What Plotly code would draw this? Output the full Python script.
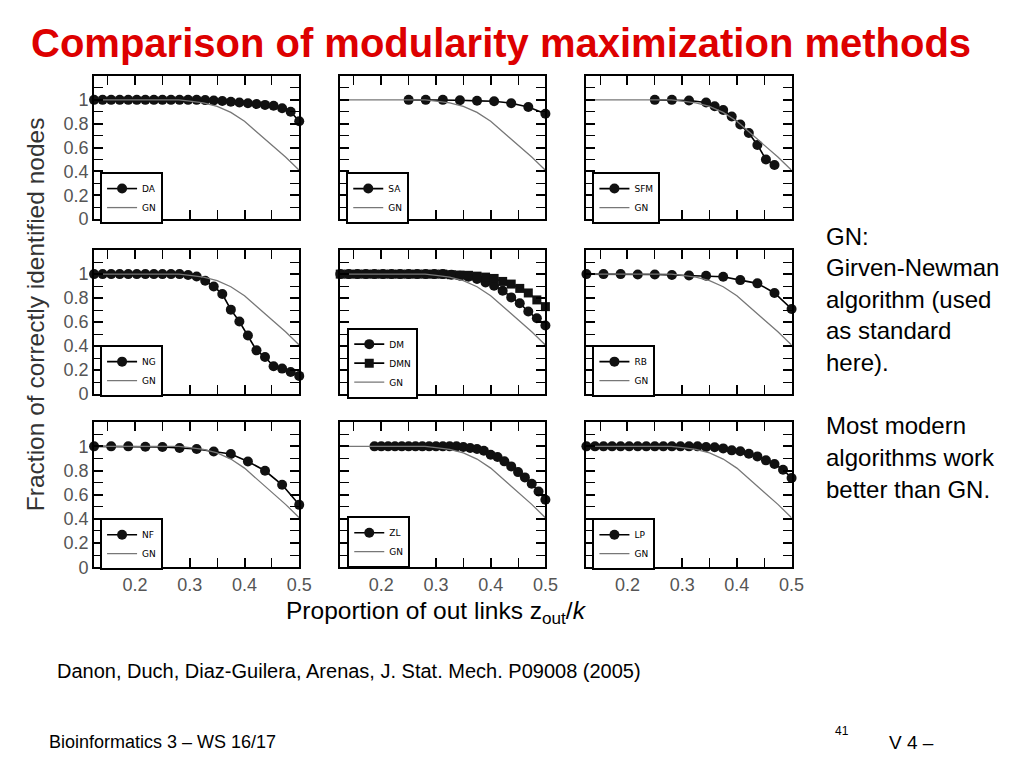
import plotly.graph_objects as go

# ---------------- data ----------------
x_grid64 = [0.125, 0.140625, 0.15625, 0.171875, 0.1875, 0.203125, 0.21875, 0.234375, 0.25,
            0.265625, 0.28125, 0.296875, 0.3125, 0.328125, 0.34375, 0.359375, 0.375,
            0.390625, 0.40625, 0.421875, 0.4375, 0.453125, 0.46875, 0.484375, 0.5]
x_grid32 = [0.125, 0.15625, 0.1875, 0.21875, 0.25, 0.28125, 0.3125, 0.34375, 0.375,
            0.40625, 0.4375, 0.46875, 0.5]
x_sa = [0.25, 0.28125, 0.3125, 0.34375, 0.375, 0.40625, 0.4375, 0.46875, 0.5]
x_sfm = [0.25, 0.28125, 0.3125, 0.34375, 0.359375, 0.375, 0.390625, 0.40625, 0.421875,
         0.4375, 0.453125, 0.46875]
x_zl = [0.1875, 0.2, 0.2125, 0.225, 0.2375, 0.25, 0.2625, 0.275, 0.2875, 0.3, 0.3125,
        0.325, 0.3375, 0.35, 0.3625, 0.375, 0.3875, 0.4, 0.4125, 0.425, 0.4375, 0.45,
        0.4625, 0.475, 0.4875, 0.5]

gn_x = [0.125, 0.28, 0.30, 0.325, 0.35, 0.375, 0.40, 0.42, 0.45, 0.475, 0.5]
gn_y = [1.0, 1.0, 0.99, 0.975, 0.945, 0.895, 0.82, 0.74, 0.62, 0.52, 0.41]

da_y = [1, 1, 1, 1, 1, 1, 1, 1, 1, 1, 1, 1, 1, 0.998, 0.995, 0.99, 0.985, 0.978, 0.972,
        0.965, 0.958, 0.95, 0.93, 0.9, 0.82]
sa_y = [1.0, 1.0, 1.0, 0.997, 0.992, 0.989, 0.972, 0.94, 0.884]
sfm_y = [1.0, 1.0, 0.995, 0.978, 0.946, 0.915, 0.861, 0.793, 0.722, 0.622, 0.5, 0.454]
ng_y = [1, 1, 1, 1, 1, 1, 1, 1, 1, 1, 1, 0.992, 0.98, 0.945, 0.897, 0.834, 0.704, 0.605,
        0.489, 0.365, 0.309, 0.232, 0.213, 0.185, 0.152]
dm_y = [1, 1, 1, 1, 1, 1, 1, 1, 1, 1, 1, 1, 1, 0.994, 0.986, 0.978, 0.959, 0.931, 0.903,
        0.862, 0.806, 0.757, 0.688, 0.632, 0.572]
dmn_y = [1, 1, 1, 1, 1, 1, 1, 1, 1, 1, 1, 1, 1, 0.995, 0.992, 0.99, 0.983, 0.975, 0.964,
         0.939, 0.917, 0.881, 0.843, 0.785, 0.729]
rb_y = [1.0, 1.0, 1.0, 0.997, 0.997, 0.992, 0.989, 0.986, 0.978, 0.95, 0.923, 0.843, 0.71]
nf_y = [1, 1, 1, 0.997, 0.994, 0.986, 0.978, 0.958, 0.936, 0.875, 0.798, 0.682, 0.516]
zl_y = [1, 1, 1, 1, 1, 1, 1, 1, 1, 1, 1, 1, 1, 0.994, 0.986, 0.978, 0.964, 0.931, 0.912,
        0.876, 0.834, 0.787, 0.743, 0.69, 0.627, 0.558]
lp_y = [1, 1, 1, 1, 1, 1, 1, 1, 1, 1, 1, 1, 1, 1, 0.994, 0.992, 0.983, 0.967, 0.959,
        0.939, 0.917, 0.884, 0.854, 0.807, 0.738]

x_tickvals = [0.2, 0.3, 0.4, 0.5]
y_tickvals = [0, 0.2, 0.4, 0.6, 0.8, 1]
y_ticktext = ["0", "0.2", "0.4", "0.6", "0.8", "1"]

panels = [
    [("DA", x_grid64, da_y, "circle")],
    [("SA", x_sa, sa_y, "circle")],
    [("SFM", x_sfm, sfm_y, "circle")],
    [("NG", x_grid64, ng_y, "circle")],
    [("DM", x_grid64, dm_y, "circle"), ("DMN", x_grid64, dmn_y, "square")],
    [("RB", x_grid32, rb_y, "circle")],
    [("NF", x_grid32, nf_y, "circle")],
    [("ZL", x_zl, zl_y, "circle")],
    [("LP", x_grid64, lp_y, "circle")],
]

# ---------------- layout geometry (pixels) ----------------
W, H = 1024, 768
S = 1.0136  # compensation for the page being photographed slightly reduced
col_px = [(94, 299), (340, 545), (586, 791)]
row_px = [(76, 219), (250, 394), (422, 567)]
# legend boxes (x left, y centre)
legend_px = [(100, 198), (346, 198), (592, 198),
             (100, 371), (347, 363), (592, 371),
             (100, 544), (347, 542), (592, 544)]

fig = go.Figure()
layout = dict(width=W, height=H, margin=dict(l=0, r=0, t=0, b=0),
              paper_bgcolor="white", plot_bgcolor="white", showlegend=True)

for i, series in enumerate(panels):
    r, c = divmod(i, 3)
    n = i + 1
    xa = "x" if n == 1 else f"x{n}"
    ya = "y" if n == 1 else f"y{n}"
    lg = "legend" if n == 1 else f"legend{n}"
    for name, xs, ys, sym in series:
        fig.add_trace(go.Scatter(
            x=xs, y=ys, mode="lines+markers", name=name, cliponaxis=False,
            line=dict(color="black", width=1.6),
            marker=dict(symbol=sym, size=10 if sym == "circle" else 9, color="#111111"),
            xaxis=xa, yaxis=ya, legend=lg))
    fig.add_trace(go.Scatter(
        x=gn_x, y=gn_y, mode="lines", name="GN",
        line=dict(color="#777777", width=1.3),
        xaxis=xa, yaxis=ya, legend=lg))

    x0, x1 = col_px[c]
    y0, y1 = row_px[r]
    axis_common = dict(showline=True, linewidth=2, linecolor="black", mirror="allticks",
                       ticks="inside", tickwidth=2, tickcolor="black", showgrid=False,
                       zeroline=False,
                       tickfont=dict(family="Liberation Sans, Arial", size=18, color="#555555"))
    layout["xaxis" if n == 1 else f"xaxis{n}"] = dict(
        axis_common, domain=[x0 * S / W, x1 * S / W], range=[0.125, 0.5], anchor=ya,
        tickvals=x_tickvals, ticklen=9, showticklabels=(r == 2),
        minor=dict(dtick=0.05, tick0=0, ticks="inside", ticklen=9, tickwidth=1,
                   tickcolor="black"))
    layout["yaxis" if n == 1 else f"yaxis{n}"] = dict(
        axis_common, domain=[1 - y1 * S / H, 1 - y0 * S / H], range=[0, 1.2], anchor=xa,
        tickvals=y_tickvals, ticktext=y_ticktext, ticklen=9, showticklabels=(c == 0),
        minor=dict(dtick=0.1, tick0=0, ticks="inside", ticklen=9, tickwidth=1,
                   tickcolor="black"))
    lx, ly = legend_px[i]
    layout[lg] = dict(x=lx * S / W, y=1 - ly * S / H, xanchor="left", yanchor="middle",
                      bgcolor="white", bordercolor="black", borderwidth=2,
                      font=dict(family="DejaVu Sans", size=9, color="black"),
                      itemwidth=30, tracegroupgap=0)

fig.update_layout(**layout)

ann = []
def text(x, y, s, size, color="black", bold=False, xanchor="left", angle=0, family="Liberation Sans, Arial"):
    ann.append(dict(x=x * S / W, y=1 - y * S / H, xref="paper", yref="paper",
                    text=(f"<b>{s}</b>" if bold else s),
                    showarrow=False, xanchor=xanchor, yanchor="middle", textangle=angle,
                    font=dict(family=family, size=size, color=color)))

text(501, 43, "Comparison of modularity maximization methods", 40, color="#DD0000", bold=True, xanchor="center")
text(35, 314, "Fraction of correctly identified nodes", 24.5, color="#333333", xanchor="center", angle=-90)
text(436, 612, "Proportion of out links z<sub>out</sub>/<i>k</i>", 24.5, xanchor="center")
for k, line in enumerate(["GN:", "Girven-Newman", "algorithm (used", "as standard", "here)."]):
    text(823, 236 + k * 31.5, line, 24)
for k, line in enumerate(["Most modern", "algorithms work", "better than GN."]):
    text(823, 425 + k * 32, line, 24)
text(55, 671, "Danon, Duch, Diaz-Guilera, Arenas, J. Stat. Mech. P09008 (2005)", 20)
text(47, 742, "Bioinformatics 3 – WS 16/17", 18)
text(841, 731, "41", 12, xanchor="center")
text(886, 742, "V 4 –", 19)

fig.update_layout(annotations=ann)
fig.write_html("out.html")
